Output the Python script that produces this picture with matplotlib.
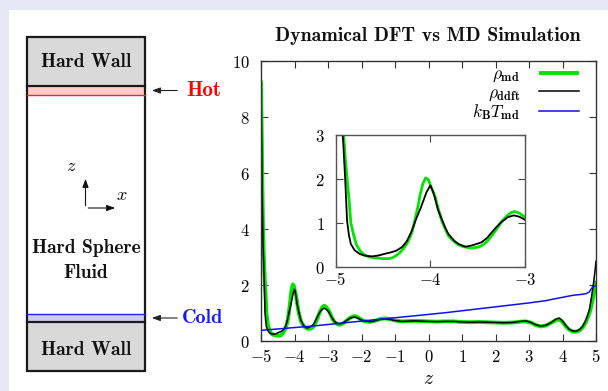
import matplotlib
matplotlib.use('Agg')
import matplotlib.pyplot as plt
from matplotlib.patches import Rectangle

plt.rcParams['mathtext.fontset'] = 'cm'
plt.rcParams['axes.unicode_minus'] = True

# ---------------- data ----------------
z_md = [-5.00, -4.98, -4.96, -4.94, -4.92, -4.90, -4.88, -4.86, -4.84, -4.81, -4.78, -4.74,
        -4.70, -4.65, -4.60, -4.55, -4.50, -4.44, -4.40, -4.36, -4.32, -4.28, -4.25, -4.22,
        -4.19, -4.16, -4.13, -4.11, -4.08, -4.05, -4.02, -3.99, -3.97, -3.95, -3.92, -3.88,
        -3.84, -3.81, -3.77, -3.74, -3.70, -3.65, -3.60, -3.56, -3.50, -3.46, -3.40, -3.35,
        -3.30, -3.25, -3.20, -3.15, -3.11, -3.06, -3.00, -2.95, -2.90, -2.85, -2.80, -2.72,
        -2.64, -2.55, -2.45, -2.35, -2.25, -2.19, -2.10, -2.00, -1.90, -1.75, -1.60, -1.45,
        -1.30, -1.15, -1.00, -0.80, -0.60, -0.40, -0.20, 0.00, 0.25, 0.50, 0.75, 1.00,
        1.25, 1.50, 1.75, 2.00, 2.25, 2.50, 2.75, 2.90, 3.05, 3.20, 3.35, 3.50,
        3.65, 3.80, 3.90, 4.00, 4.10, 4.20, 4.30, 4.40, 4.50, 4.60, 4.70, 4.80,
        4.87, 4.93, 4.97, 5.00]
rho_md = [9.30, 7.50, 5.60, 4.00, 3.10, 2.50, 2.00, 1.55, 1.00, 0.72, 0.50, 0.36,
          0.28, 0.23, 0.21, 0.20, 0.19, 0.19, 0.21, 0.26, 0.33, 0.43, 0.52, 0.65,
          0.82, 1.09, 1.38, 1.62, 1.88, 2.02, 1.98, 1.80, 1.70, 1.60, 1.35, 1.05,
          0.85, 0.71, 0.62, 0.56, 0.50, 0.46, 0.44, 0.43, 0.45, 0.48, 0.58, 0.71,
          0.86, 1.02, 1.14, 1.23, 1.26, 1.22, 1.13, 1.02, 0.88, 0.76, 0.67, 0.60,
          0.58, 0.63, 0.72, 0.82, 0.88, 0.89, 0.84, 0.76, 0.71, 0.68, 0.72, 0.78,
          0.81, 0.78, 0.73, 0.70, 0.71, 0.72, 0.71, 0.70, 0.69, 0.70, 0.70, 0.68,
          0.67, 0.68, 0.67, 0.66, 0.65, 0.66, 0.69, 0.70, 0.66, 0.57, 0.52, 0.55,
          0.64, 0.74, 0.77, 0.68, 0.52, 0.40, 0.34, 0.33, 0.37, 0.48, 0.68, 0.98,
          1.29, 1.65, 1.95, 2.15]

z_ddft = [-5.00, -4.98, -4.96, -4.94, -4.92, -4.90, -4.88, -4.86, -4.84, -4.80, -4.75, -4.70,
          -4.62, -4.55, -4.48, -4.42, -4.36, -4.30, -4.25, -4.20, -4.15, -4.10, -4.04, -4.00,
          -3.97, -3.95, -3.92, -3.88, -3.84, -3.81, -3.77, -3.74, -3.70, -3.63, -3.56, -3.50,
          -3.46, -3.40, -3.35, -3.30, -3.25, -3.18, -3.12, -3.06, -3.00, -2.95, -2.90, -2.85,
          -2.80, -2.72, -2.64, -2.55, -2.45, -2.35, -2.25, -2.19, -2.10, -2.00, -1.90, -1.75,
          -1.60, -1.45, -1.30, -1.15, -1.00, -0.80, -0.60, -0.40, -0.20, 0.00, 0.25, 0.50,
          0.75, 1.00, 1.25, 1.50, 1.75, 2.00, 2.25, 2.50, 2.75, 2.90, 3.05, 3.20,
          3.35, 3.50, 3.65, 3.80, 3.90, 4.00, 4.10, 4.20, 4.30, 4.40, 4.50, 4.60,
          4.70, 4.80, 4.87, 4.93, 4.97, 5.00]
rho_ddft = [9.20, 7.00, 5.00, 3.50, 2.80, 2.00, 1.05, 0.72, 0.52, 0.38, 0.30, 0.26,
            0.24, 0.26, 0.30, 0.33, 0.37, 0.45, 0.58, 0.80, 1.09, 1.35, 1.70, 1.85,
            1.70, 1.55, 1.30, 1.09, 0.88, 0.75, 0.65, 0.58, 0.52, 0.46, 0.49, 0.53,
            0.56, 0.66, 0.79, 0.91, 1.02, 1.13, 1.17, 1.14, 1.07, 0.98, 0.87, 0.77,
            0.69, 0.63, 0.61, 0.65, 0.73, 0.81, 0.85, 0.85, 0.81, 0.75, 0.71, 0.69,
            0.72, 0.77, 0.79, 0.77, 0.73, 0.70, 0.71, 0.72, 0.71, 0.70, 0.69, 0.70,
            0.70, 0.68, 0.67, 0.68, 0.67, 0.66, 0.65, 0.66, 0.70, 0.72, 0.67, 0.58,
            0.53, 0.56, 0.65, 0.78, 0.82, 0.72, 0.55, 0.42, 0.36, 0.35, 0.40, 0.52,
            0.75, 1.10, 1.60, 2.10, 2.50, 2.85]

z_T = [-5.0, -4.5, -4.0, -3.5, -3.0, -2.5, -2.0, -1.5, -1.0, -0.5, 0.0, 0.5, 1.0, 1.5,
       2.0, 2.5, 3.0, 3.5, 3.7, 4.0, 4.3, 4.6, 4.7, 4.8, 4.85, 4.9, 5.0]
kT_md = [0.38, 0.43, 0.48, 0.53, 0.59, 0.65, 0.71, 0.77, 0.83, 0.89, 0.95, 1.01, 1.08, 1.15,
         1.22, 1.29, 1.36, 1.44, 1.49, 1.56, 1.63, 1.67, 1.69, 1.75, 1.85, 1.93, 1.98]

series_labels = [r'$\rho_{\mathbf{md}}$', r'$\rho_{\mathbf{ddft}}$', r'$k_{\mathbf{B}}T_{\mathbf{md}}$']
title_text = 'Dynamical DFT vs MD Simulation'

x_ticks = [-5, -4, -3, -2, -1, 0, 1, 2, 3, 4, 5]
x_tick_labels = [r'$\mathbf{-5}$', r'$\mathbf{-4}$', r'$\mathbf{-3}$', r'$\mathbf{-2}$', r'$\mathbf{-1}$',
                 r'$\mathbf{0}$', r'$\mathbf{1}$', r'$\mathbf{2}$', r'$\mathbf{3}$', r'$\mathbf{4}$',
                 r'$\mathbf{5}$']
y_ticks = [0, 2, 4, 6, 8, 10]
y_tick_labels = [r'$\mathbf{0}$', r'$\mathbf{2}$', r'$\mathbf{4}$', r'$\mathbf{6}$', r'$\mathbf{8}$',
                 r'$\mathbf{10}$']
inset_x_ticks = [-5, -4, -3]
inset_x_labels = [r'$\mathbf{-5}$', r'$\mathbf{-4}$', r'$\mathbf{-3}$']
inset_y_ticks = [0, 1, 2, 3]
inset_y_labels = [r'$\mathbf{0}$', r'$\mathbf{1}$', r'$\mathbf{2}$', r'$\mathbf{3}$']

GREEN = '#00e400'
BLUE = '#1010e8'
W, H = 608, 391

fig = plt.figure(figsize=(W / 100, H / 100), dpi=100, facecolor='#e6e8f5')

# ---------------- background + schematic (pixel coordinates) ----------------
bg = fig.add_axes([0, 0, 1, 1], zorder=0)
bg.set_xlim(0, W)
bg.set_ylim(H, 0)
bg.axis('off')
bg.add_patch(Rectangle((9, 10), W, H, facecolor='white', edgecolor='none'))

bg.add_patch(Rectangle((27, 37), 118, 49, facecolor='#d9d9d9', edgecolor='none'))
bg.add_patch(Rectangle((27, 322), 118, 49, facecolor='#d9d9d9', edgecolor='none'))
bg.add_patch(Rectangle((27, 86), 118, 8.5, facecolor='#ffcccc', edgecolor='none'))
bg.add_patch(Rectangle((27, 314), 118, 8, facecolor='#ccccf5', edgecolor='none'))
bg.plot([27, 145], [94.5, 94.5], color='#ff2020', lw=1.0)
bg.plot([27, 145], [314, 314], color='#2020ff', lw=1.0)
bg.plot([27, 145], [86, 86], color='#1a1a1a', lw=1.6)
bg.plot([27, 145], [322, 322], color='#1a1a1a', lw=1.6)
bg.add_patch(Rectangle((27, 37), 118, 334, facecolor='none', edgecolor='#1a1a1a', lw=1.6))

bf = dict(family='cmb10', color='#111111', ha='center', va='center')
bg.text(86, 62, 'Hard Wall', fontsize=14, **bf)
bg.text(86, 350, 'Hard Wall', fontsize=14, **bf)
bg.text(86, 248, 'Hard Sphere', fontsize=14, **bf)
bg.text(86, 273, 'Fluid', fontsize=14, **bf)

for yy in (90.5, 318):
    bg.annotate('', xy=(149, yy), xytext=(180, yy),
                arrowprops=dict(arrowstyle='-|>,head_length=0.5,head_width=0.18', color='#222222', lw=0.8))
bg.text(186, 90.5, 'Hot', family='cmb10', fontsize=15, color='#ff0000', ha='left', va='center')
bg.text(182, 318, 'Cold', family='cmb10', fontsize=14.5, color='#1a1aff', ha='left', va='center')

bg.annotate('', xy=(85.5, 176), xytext=(85.5, 208.5),
            arrowprops=dict(arrowstyle='-|>,head_length=0.5,head_width=0.18', color='#111111', lw=0.8))
bg.annotate('', xy=(118, 208), xytext=(85.5, 208),
            arrowprops=dict(arrowstyle='-|>,head_length=0.5,head_width=0.18', color='#111111', lw=0.8))
bg.text(71, 166, r'$z$', fontsize=13, ha='center', va='center')
bg.text(122, 195, r'$x$', fontsize=13, ha='center', va='center')

bg.text(428, 36, title_text, family='cmb10', fontsize=14.3, ha='center', va='center', color='#111111')

# ---------------- main axes ----------------
L, R, T, B = 261, 596, 61, 341
ax = fig.add_axes([L / W, (H - B) / H, (R - L) / W, (B - T) / H], zorder=1)
ax.patch.set_alpha(0)
ax.plot(z_md, rho_md, color=GREEN, lw=2.8, label=series_labels[0], solid_capstyle='butt')
ax.plot(z_ddft, rho_ddft, color='black', lw=1.1, label=series_labels[1])
ax.plot(z_T, kT_md, color=BLUE, lw=1.1, label=series_labels[2])
ax.set_xlim(-5, 5)
ax.set_ylim(0, 10)
ax.set_xticks(x_ticks)
ax.set_xticklabels(x_tick_labels)
ax.set_yticks(y_ticks)
ax.set_yticklabels(y_tick_labels)
ax.tick_params(direction='in', top=True, right=True, length=5, width=0.8, color='#333333',
               labelsize=12)
ax.tick_params(axis='x', pad=5)
ax.tick_params(axis='y', pad=8)
for s in ax.spines.values():
    s.set_color('#333333')
    s.set_linewidth(1.0)
ax.set_xlabel(r'$z$', fontsize=14, labelpad=2)

leg = ax.legend(loc='upper right', bbox_to_anchor=((579 - L) / (R - L), (B - 65) / (B - T)),
                frameon=False, markerfirst=False, fontsize=12.5, handlelength=2.3,
                handletextpad=1.1, labelspacing=-0.05, borderpad=0, borderaxespad=0)

# ---------------- inset ----------------
iL, iR, iT, iB = 335.7, 525, 134.7, 267
axi = fig.add_axes([iL / W, (H - iB) / H, (iR - iL) / W, (iB - iT) / H], zorder=2)
axi.set_facecolor('white')
axi.plot(z_md, rho_md, color=GREEN, lw=2.0)
axi.plot(z_ddft, rho_ddft, color='black', lw=1.3)
axi.set_xlim(-5, -3)
axi.set_ylim(0, 3)
axi.set_xticks(inset_x_ticks)
axi.set_xticklabels(inset_x_labels)
axi.set_yticks(inset_y_ticks)
axi.set_yticklabels(inset_y_labels)
axi.tick_params(direction='in', top=True, right=True, length=5, width=0.8, color='#444444',
                labelsize=12)
axi.tick_params(axis='x', pad=3)
axi.tick_params(axis='y', pad=8)
for s in axi.spines.values():
    s.set_color('#555555')
    s.set_linewidth(1.0)

fig.savefig('out.png', dpi=100, facecolor=fig.get_facecolor())
